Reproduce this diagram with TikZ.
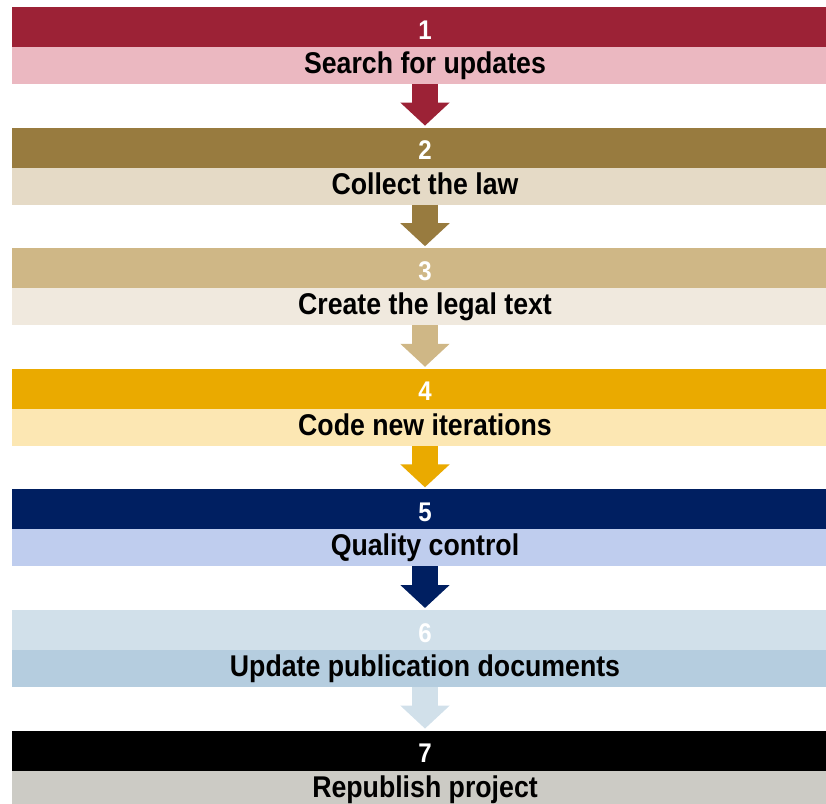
\documentclass[tikz,border=0pt]{standalone}
\usepackage{fontspec}
\setmainfont{Liberation Sans}[FakeStretch=0.89]
\usetikzlibrary{positioning,arrows.meta}
\definecolor{searchdark}{HTML}{9C2236}
\definecolor{searchlight}{HTML}{EBB8C1}
\definecolor{collectdark}{HTML}{987B3F}
\definecolor{collectlight}{HTML}{E5DAC6}
\definecolor{createdark}{HTML}{CFB786}
\definecolor{createlight}{HTML}{F0E9DE}
\definecolor{codedark}{HTML}{EAAA00}
\definecolor{codelight}{HTML}{FCE7B3}
\definecolor{qualitydark}{HTML}{001F61}
\definecolor{qualitylight}{HTML}{BFCDEE}
\definecolor{updatedark}{HTML}{D1E0EA}
\definecolor{updatelight}{HTML}{B5CDDF}
\definecolor{republishdark}{HTML}{000000}
\definecolor{republishlight}{HTML}{CCCBC5}

\begin{document}
\begin{tikzpicture}[x=1pt, y=1pt,
numbar/.style={rectangle, minimum width=826pt, minimum height=40pt, inner sep=0pt, outer sep=0pt,
  text=white, text height=24pt, text depth=0pt, font=\fontsize{27}{27}\selectfont\bfseries},
labelbar/.style={rectangle, minimum width=826pt, minimum height=37pt, inner sep=0pt, outer sep=0pt,
  text=black, text height=22pt, text depth=6pt, font=\fontsize{30}{30}\selectfont\bfseries},
flow/.style={line width=26pt, -{Triangle[width=48pt, length=23pt]}, shorten >=2pt}
]
\useasboundingbox (0,0) rectangle (826,-803);
%Bars
\node[numbar, fill=searchdark]      (n1)  at (425,-27)               {1};
\node[labelbar, fill=searchlight]   (t1)  [below=0pt of n1]          {Search for updates};
\node[numbar, fill=collectdark]     (n2)  [below=43.6pt of t1]       {2};
\node[labelbar, fill=collectlight]  (t2)  [below=0pt of n2]          {Collect the law};
\node[numbar, fill=createdark]      (n3)  [below=43.6pt of t2]       {3};
\node[labelbar, fill=createlight]   (t3)  [below=0pt of n3]          {Create the legal text};
\node[numbar, fill=codedark]        (n4)  [below=43.6pt of t3]       {4};
\node[labelbar, fill=codelight]     (t4)  [below=0pt of n4]          {Code new iterations};
\node[numbar, fill=qualitydark]     (n5)  [below=43.6pt of t4]       {5};
\node[labelbar, fill=qualitylight]  (t5)  [below=0pt of n5]          {Quality control};
\node[numbar, fill=updatedark]      (n6)  [below=43.6pt of t5]       {6};
\node[labelbar, fill=updatelight]   (t6)  [below=0pt of n6]          {Update publication documents};
\node[numbar, fill=republishdark]   (n7)  [below=43.6pt of t6]       {7};
\node[labelbar, fill=republishlight](t7)  [below=0pt of n7]          {Republish project};
%Arrows
\draw[flow, searchdark]  (t1.south) -- (n2.north);
\draw[flow, collectdark] (t2.south) -- (n3.north);
\draw[flow, createdark]  (t3.south) -- (n4.north);
\draw[flow, codedark]    (t4.south) -- (n5.north);
\draw[flow, qualitydark] (t5.south) -- (n6.north);
\draw[flow, updatedark]  (t6.south) -- (n7.north);
\end{tikzpicture}
\end{document}
